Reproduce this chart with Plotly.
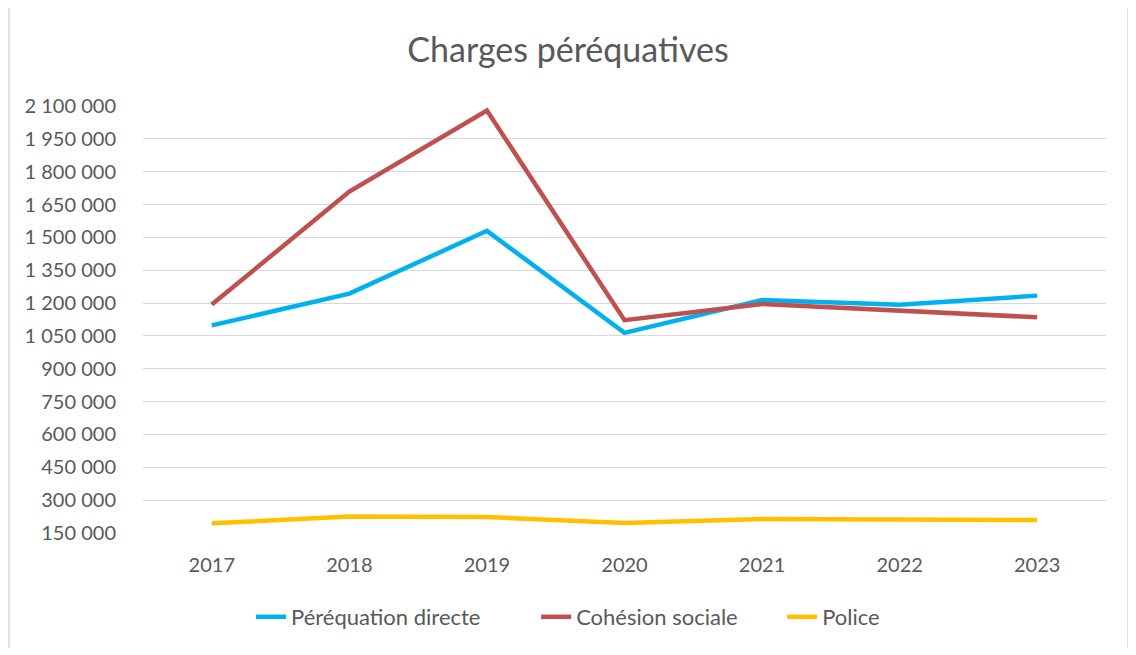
import plotly.graph_objects as go

years = ["2017", "2018", "2019", "2020", "2021", "2022", "2023"]
perequation_directe = [1098000, 1243000, 1530000, 1064000, 1214000, 1192000, 1234000]
cohesion_sociale = [1193000, 1709000, 2079000, 1122000, 1196000, 1167000, 1135000]
police = [194000, 225000, 223000, 196000, 214000, 209000, 209000]

series = [
    ("Péréquation directe", perequation_directe, "#00B0F0", 9),
    ("Cohésion sociale", cohesion_sociale, "#C0504D", 7),
    ("Police", police, "#FFC000", 0),
]

y_ticks = list(range(150000, 2100001, 150000))

W, H = 1120, 640
L, R, T, B = 135, 22, 98, 115
pw, ph = W - L - R, H - T - B

fig = go.Figure()
for name, vals, col, pad in series:
    fig.add_trace(go.Scatter(
        x=years, y=vals, name=name + "\u00a0" * pad, mode="lines",
        line=dict(color=col, width=4.5),
    ))

font_family = "Lato, 'Open Sans', sans-serif"
fig.update_layout(
    width=W, height=H,
    paper_bgcolor="white", plot_bgcolor="white",
    margin=dict(l=L, r=R, t=T, b=B),
    separators=", ",
    title=dict(text="Charges péréquatives", x=0.5, xref="container", xanchor="center",
               y=1 - 42 / H, yanchor="middle",
               font=dict(family=font_family, size=34, color="#595959")),
    font=dict(family=font_family, size=20, color="#595959"),
    xaxis=dict(
        type="category", range=[-0.5, 6.5],
        showgrid=False, showline=False, zeroline=False,
        ticks="outside", ticklen=14, tickcolor="rgba(0,0,0,0)",
        tickfont=dict(size=20, color="#595959"),
    ),
    yaxis=dict(
        range=[150000, 2100000], tickvals=y_ticks, tickformat=",.0f",
        showgrid=True, gridcolor="#D9D9D9", gridwidth=1.3,
        zeroline=False, showline=False,
        ticks="outside", ticklen=22, tickcolor="rgba(0,0,0,0)",
        tickfont=dict(size=20, color="#595959"),
    ),
    legend=dict(orientation="h", x=0.5, xanchor="center", xref="container",
                y=31 / H, yref="container", yanchor="middle",
                font=dict(size=22, color="#595959"),
                traceorder="normal"),
    shapes=[
        dict(type="line", xref="paper", yref="paper",
             x0=(1 - L) / pw, x1=(1 - L) / pw, y0=-B / ph, y1=(H - B) / ph,
             line=dict(color="#D9D9D9", width=1.5)),
        dict(type="line", xref="paper", yref="paper",
             x0=(1120 - L) / pw, x1=(1120 - L) / pw, y0=-B / ph, y1=(H - B) / ph,
             line=dict(color="#D9D9D9", width=1.5)),
    ],
)

fig.write_html("out.html")
